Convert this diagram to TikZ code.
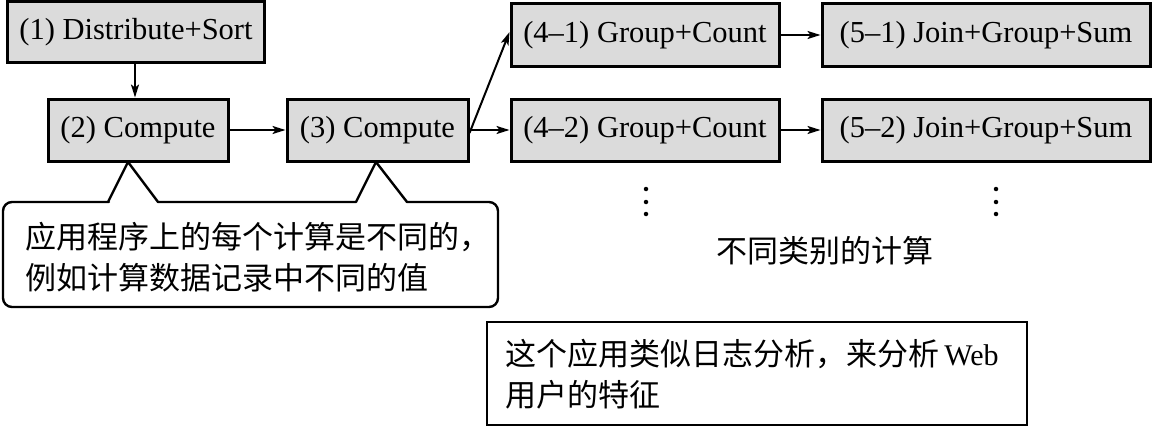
\documentclass[tikz,border=0pt]{standalone}
\usepackage{fontspec}
\setmainfont{Liberation Serif}
\newfontfamily\cjk{Noto Sans CJK SC}
\usetikzlibrary{arrows.meta}
\begin{document}
\begin{tikzpicture}[x=1pt,y=-1pt,
  box/.style={draw=black,line width=3pt,fill=black!14,inner sep=0pt,
    font=\fontsize{30.5}{34}\selectfont,anchor=center},
  arr/.style={line width=2pt,-{Stealth[length=13pt,width=8pt,inset=3pt]}},
  cn/.style={font=\fontsize{31}{41}\selectfont\cjk,inner sep=0pt},
  dot/.style={circle,fill=black,inner sep=0pt,minimum size=4.5pt}]
\useasboundingbox (0,0) rectangle (1155,428);
\node[box,minimum width=257pt,minimum height=60pt] (n1) at (136,32) {(1) Distribute+Sort};
\node[box,minimum width=180pt,minimum height=62pt] (n2) at (138,130) {(2) Compute};
\node[box,minimum width=181pt,minimum height=62pt] (n3) at (377.5,130) {(3) Compute};
\node[box,minimum width=268pt,minimum height=62pt] (n41) at (645,35) {(4–1) Group+Count};
\node[box,minimum width=268pt,minimum height=62pt] (n42) at (645,130) {(4–2) Group+Count};
\node[box,minimum width=328pt,minimum height=62pt] (n51) at (986,35) {(5–1) Join+Group+Sum};
\node[box,minimum width=328pt,minimum height=62pt] (n52) at (986,130) {(5–2) Join+Group+Sum};
\draw[arr] (n1.south -| n2.north) ++(-3,0) coordinate (a1) -- (a1 |- n2.north);
\draw[arr] (n2) -- (n3);
\draw[arr] ([yshift=-3pt]n3.east) -- ([yshift=3pt]n41.west);
\draw[arr] (n3) -- (n42);
\draw[arr] (n41) -- (n51);
\draw[arr] (n42) -- (n52);
% vertical dots
\node[dot] (d11) at (646,189) {};
\node[dot] (d12) at (646,202) {};
\node[dot] (d13) at (646,214) {};
\node[dot] (d21) at (996,189) {};
\node[dot] (d22) at (996,202) {};
\node[dot] (d23) at (996,214) {};
% callout
\draw[line width=2.4pt,line join=round] (158,202) -- (356,202) -- (376,162) -- (407,202) -- (420,202)
  [rounded corners=9pt] -- (498,202) -- (498,307) -- (3,307) -- (3,202) -- (100,202)
  [sharp corners] -- (108,202) -- (128,162) -- cycle;
\node[cn,align=left,anchor=west] (note) at (25,257) {应用程序上的每个计算是不同的，\\例如计算数据记录中不同的值};
\node[cn] (kind) at (825,251) {不同类别的计算};
\node[draw,line width=2.4pt,minimum width=540pt,minimum height=103pt,inner sep=0pt] (app) at (757,373.5) {};
\node[cn,align=left,anchor=west] at (505,374) {这个应用类似日志分析，来分析\,{\rmfamily\fontsize{30}{34}\selectfont Web}\\用户的特征};
\end{tikzpicture}
\end{document}
